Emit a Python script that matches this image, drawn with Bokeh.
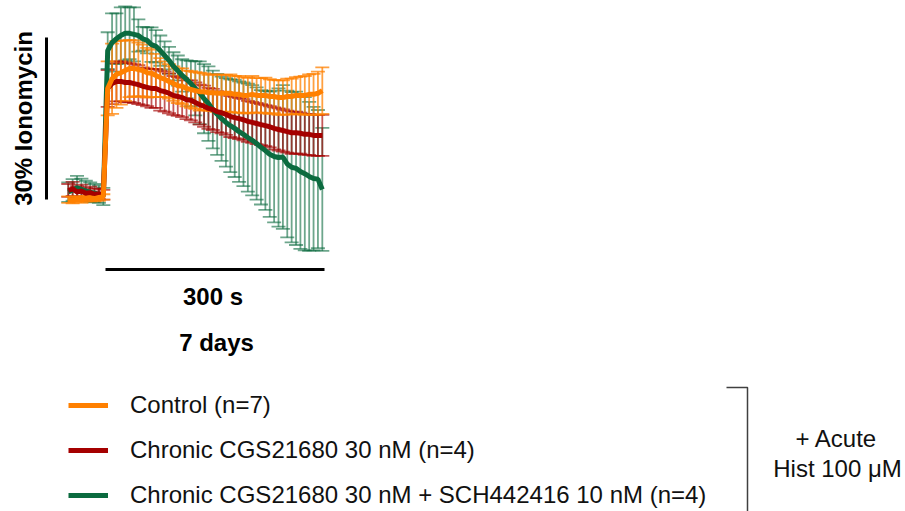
from math import pi
from bokeh.plotting import figure
from bokeh.models import (Range1d, Whisker, TeeHead, ColumnDataSource, Label,
                          Legend, LegendItem)
from bokeh.embed import file_html
from bokeh.resources import INLINE

# ---------------- data (time in s, response in % of ionomycin) ----------------
time_s = [-51, -45, -39, -33, -27, -21, -15, -9, -3,
          3, 9, 15, 21, 27, 33, 39, 45, 51, 57,
          63, 69, 75, 81, 87, 93, 99, 105, 111, 117,
          123, 129, 135, 141, 147, 153, 159, 165, 171, 177,
          183, 189, 195, 201, 207, 213, 219, 225, 231, 237,
          243, 249, 255, 261, 267, 273, 279, 285, 291, 297]

control_mean = [-0.4, -0.5, -0.3, -0.4, -0.2, -0.1, -0.2, 0.0, 0.1,
                20.2, 22.0, 22.8, 23.1, 23.5, 23.9, 23.9, 23.7, 23.5, 23.1,
                23.0, 22.6, 22.2, 21.9, 21.5, 21.1, 20.7, 20.6, 20.2, 20.0,
                19.8, 19.6, 19.6, 19.4, 19.4, 19.3, 19.3, 19.3, 19.3, 19.1,
                19.1, 18.9, 18.9, 19.1, 18.9, 18.9, 18.9, 18.7, 18.7, 18.5,
                18.5, 18.7, 18.7, 18.9, 18.9, 18.9, 19.1, 19.1, 19.3, 19.8]
control_sem = [0.6, 0.6, 0.5, 0.6, 0.5, 0.6, 0.5, 0.6, 0.5,
               5.0, 6.5, 6.2, 5.9, 5.6, 5.3, 5.2, 5.0, 4.8, 4.6,
               4.4, 4.0, 3.6, 3.3, 3.2, 3.2, 3.2, 3.3, 3.3, 3.4,
               3.4, 3.5, 3.4, 3.3, 3.4, 3.5, 3.4, 3.4, 3.5, 3.4,
               3.4, 3.3, 3.3, 3.4, 3.2, 3.2, 3.3, 3.2, 3.1, 3.2,
               3.2, 3.3, 3.3, 3.4, 3.5, 3.6, 3.7, 3.8, 4.0, 4.3]

cgs_mean = [1.3, 1.6, 1.0, 1.2, 0.8, 0.9, 0.6, 0.7, 0.5,
            20.2, 21.1, 21.5, 21.5, 21.3, 21.3, 21.1, 20.9, 20.6, 20.4,
            20.2, 20.2, 19.8, 19.6, 19.3, 18.9, 18.7, 18.5, 18.1, 18.0,
            17.6, 17.2, 16.9, 16.5, 16.3, 15.9, 15.7, 15.4, 15.0, 14.8,
            14.6, 14.4, 14.1, 13.9, 13.7, 13.5, 13.3, 13.1, 12.8, 12.6,
            12.4, 12.2, 12.0, 12.0, 11.9, 11.7, 11.7, 11.5, 11.5, 11.5]
cgs_sem = [1.2, 1.3, 1.1, 1.2, 1.0, 1.1, 1.0, 1.0, 0.9,
           3.4, 3.8, 3.7, 3.7, 3.7, 3.6, 3.6, 3.6, 3.5, 3.5,
           3.6, 3.6, 3.7, 3.7, 3.7, 3.6, 3.6, 3.6, 3.6, 3.7,
           3.7, 3.7, 3.8, 3.8, 3.8, 3.8, 3.8, 3.8, 3.8, 3.8,
           3.8, 3.8, 3.8, 3.8, 3.8, 3.8, 3.8, 3.8, 3.9, 3.9,
           3.9, 3.9, 3.9, 3.9, 3.8, 3.8, 3.8, 3.8, 3.8, 3.8]

cgs_sch_mean = [1.0, 1.4, 1.8, 1.5, 1.2, 1.0, 0.8, 0.6, 0.2,
                27.2, 28.7, 29.4, 30.0, 30.4, 30.4, 30.2, 30.0, 29.4, 29.1,
                28.3, 28.0, 27.2, 26.3, 25.4, 24.3, 23.5, 22.6, 21.9, 21.1,
                20.2, 19.4, 18.3, 17.4, 16.3, 15.4, 14.6, 13.9, 13.3, 12.8,
                12.2, 11.7, 11.1, 10.6, 10.0, 9.3, 8.7, 8.0, 7.6, 7.4,
                7.5, 6.2, 5.6, 5.4, 4.8, 4.4, 3.9, 3.5, 3.4, 1.5]
cgs_sch_sem = [1.8, 2.0, 2.2, 2.0, 1.9, 1.8, 1.7, 1.6, 1.6,
               3.4, 5.4, 4.7, 5.2, 5.0, 4.8, 5.0, 3.0, 2.2, 2.4,
               3.2, 3.0, 2.8, 2.6, 2.5, 2.6, 2.8, 3.0, 3.5, 4.2,
               5.0, 5.8, 6.4, 6.9, 7.2, 7.5, 7.8, 8.2, 8.6, 9.0,
               9.3, 9.6, 10.0, 10.2, 10.4, 10.6, 11.0, 11.6, 12.2, 12.8,
               13.3, 13.6, 13.9, 14.2, 14.3, 14.2, 13.8, 13.3, 12.8, 11.4]

series_labels = ["Control (n=7)",
                 "Chronic CGS21680 30 nM (n=4)",
                 "Chronic CGS21680 30 nM + SCH442416 10 nM (n=4)"]
scale_time_s = 300
scale_pct = 30
time_bar_label = "300 s"
pct_bar_label = "30% Ionomycin"
condition_label = "7 days"
bracket_label_1 = "+ Acute"
bracket_label_2 = "Hist 100 \u03bcM"

# ---------------- layout helpers (pixel <-> data) ----------------
W, H = 905, 511
X0_PX, PX_PER_S = 105.0, 219.0 / 300.0
Y0_PX, PX_PER_PCT = 197.0, 162.0 / 30.0


def X(px):
    return (px - X0_PX) / PX_PER_S


def V(py):
    return (Y0_PX - py) / PX_PER_PCT


p = figure(width=W, height=H, output_backend="svg", toolbar_location=None,
           x_range=Range1d(X(0), X(W)), y_range=Range1d(V(H), V(0)),
           min_border=0, x_axis_location=None, y_axis_location=None)
p.grid.visible = False
p.outline_line_color = None
p.background_fill_color = "white"
p.border_fill_color = "white"

ORANGE = "#ff8000"
RED = "#a50000"
GREEN = "#0b6b3f"

series = [
    (cgs_sch_mean, cgs_sch_sem, GREEN, 0.6),
    (cgs_mean, cgs_sem, RED, 0.65),
    (control_mean, control_sem, ORANGE, 0.75),
]

for mean, sem, col, alpha in series:
    src = ColumnDataSource(dict(
        t=time_s,
        upper=[m + s for m, s in zip(mean, sem)],
        lower=[m - s for m, s in zip(mean, sem)],
    ))
    w = Whisker(base="t", upper="upper", lower="lower", source=src,
                line_color=col, line_alpha=alpha, line_width=1.8,
                level="underlay",
                upper_head=TeeHead(size=14, line_color=col, line_alpha=alpha, line_width=1.8),
                lower_head=TeeHead(size=14, line_color=col, line_alpha=alpha, line_width=1.8))
    p.add_layout(w)

r_green = p.line(time_s, cgs_sch_mean, line_color=GREEN, line_width=5)
r_red = p.line(time_s, cgs_mean, line_color=RED, line_width=5)
r_orange = p.line(time_s, control_mean, line_color=ORANGE, line_width=5)

# ---------------- scale bars ----------------
p.line([0, scale_time_s], [V(269), V(269)], line_color="black", line_width=3)
p.line([X(46), X(46)], [V(199), V(199) + scale_pct], line_color="black", line_width=3)

FONT = "Liberation Sans"
p.add_layout(Label(x=X(212.5), y=V(296), text=time_bar_label, text_align="center",
                   text_baseline="middle", text_font=FONT, text_font_size="24px",
                   text_font_style="bold", text_color="black"))
p.add_layout(Label(x=X(216), y=V(342), text=condition_label, text_align="center",
                   text_baseline="middle", text_font=FONT, text_font_size="24px",
                   text_font_style="bold", text_color="black"))
p.add_layout(Label(x=X(23), y=V(118), text=pct_bar_label, text_align="center",
                   text_baseline="middle", angle=pi / 2, text_font=FONT,
                   text_font_size="24px", text_font_style="bold", text_color="black"))

# ---------------- legend ----------------
legend = Legend(items=[LegendItem(label=series_labels[0], renderers=[r_orange]),
                       LegendItem(label=series_labels[1], renderers=[r_red]),
                       LegendItem(label=series_labels[2], renderers=[r_green])],
                location=(68, 2), orientation="vertical",
                glyph_width=40, glyph_height=28, label_height=28, label_standoff=22,
                spacing=17, padding=0, margin=0,
                label_text_font=FONT, label_text_font_size="24px", label_text_color="#111111",
                border_line_alpha=0, background_fill_alpha=0)
p.add_layout(legend)

# ---------------- bracket ----------------
p.line([X(726), X(747), X(747)], [V(387), V(387), V(520)], line_color="#404040", line_width=1.5)
p.add_layout(Label(x=X(836), y=V(438), text=bracket_label_1, text_align="center",
                   text_baseline="middle", text_font=FONT, text_font_size="24px",
                   text_color="#111111"))
p.add_layout(Label(x=X(837), y=V(468), text=bracket_label_2, text_align="center",
                   text_baseline="middle", text_font=FONT, text_font_size="24px",
                   text_color="#111111"))

open("out.html", "w").write(file_html(p, INLINE))
